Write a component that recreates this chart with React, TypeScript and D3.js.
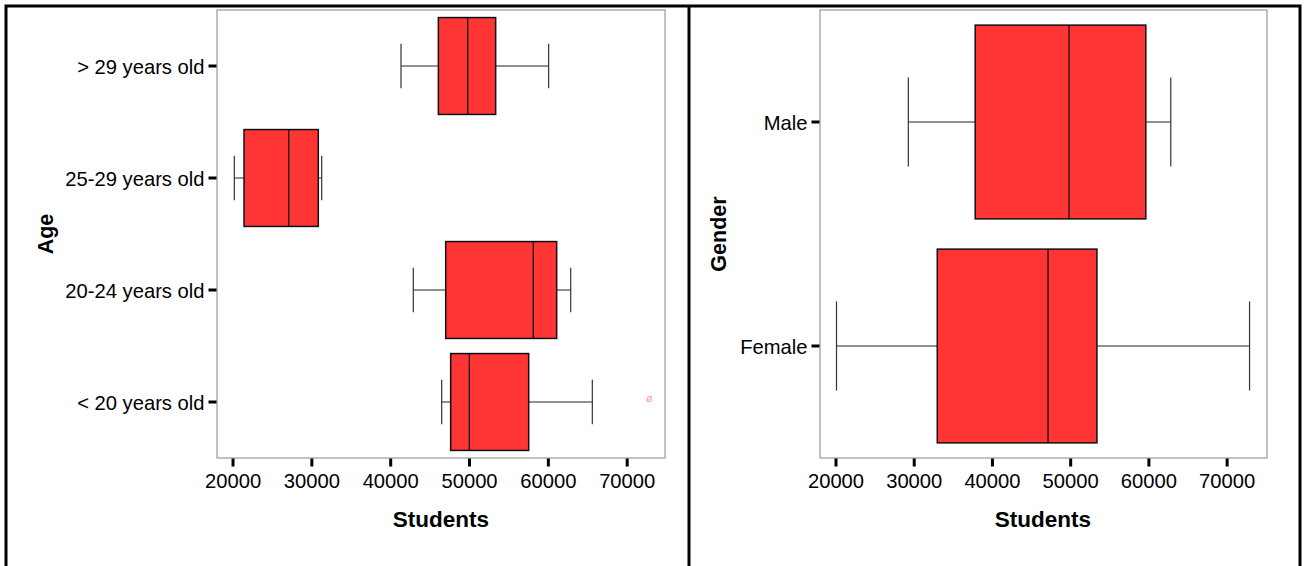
import React, { useEffect, useRef } from "react";
import * as d3 from "d3";

const FONT = "'Liberation Sans', Arial, Helvetica, sans-serif";
const BOX_FILL = "#ff3434";

// Age panel
const ageCategories = ["> 29 years old", "25-29 years old", "20-24 years old", "< 20 years old"];
const ageLowWhisker = [41370, 20230, 42930, 46530];
const ageQ1 = [46110, 21460, 47040, 47670];
const ageMedian = [49830, 27130, 58150, 50040];
const ageQ3 = [53380, 30880, 61120, 57570];
const ageHighWhisker = [60100, 31310, 62900, 65640];
const ageOutliers = [[], [], [], [72870]];

// Gender panel
const genderCategories = ["Male", "Female"];
const genderLowWhisker = [29310, 20130];
const genderQ1 = [37860, 33010];
const genderMedian = [49850, 47170];
const genderQ3 = [59670, 53420];
const genderHighWhisker = [62860, 72930];
const genderOutliers: number[][] = [[], []];

const xTicks = [20000, 30000, 40000, 50000, 60000, 70000];

type PanelProps = {
  left: number;
  right: number;
  top: number;
  bottom: number;
  domain: [number, number];
  categories: string[];
  low: number[];
  q1: number[];
  median: number[];
  q3: number[];
  high: number[];
  outliers: number[][];
  yTitle: string;
  yTitleX: number;
  xTitleX: number;
};

const BoxPanel = (p: PanelProps) => {
  const axesRef = useRef<SVGGElement>(null);
  const w = p.right - p.left;
  const h = p.bottom - p.top;

  const xScale = d3.scaleLinear().domain(p.domain).range([0, w]);
  const yScale = d3.scaleBand().domain(p.categories).range([0, h]).padding(0);
  const boxH = yScale.bandwidth() * 0.865;
  const capH = boxH * 0.46;

  useEffect(() => {
    const g = d3.select(axesRef.current);
    g.selectAll("*").remove();

    const xAxis = g
      .append("g")
      .attr("transform", `translate(0,${h + 0.5})`)
      .call(
        d3.axisBottom(xScale).tickValues(xTicks).tickFormat(d3.format("d")).tickSize(8).tickPadding(7)
      );
    const yAxis = g
      .append("g")
      .attr("transform", `translate(-0.5,0)`)
      .call(d3.axisLeft(yScale).tickSize(8).tickPadding(4));

    [xAxis, yAxis].forEach((a) => {
      a.select(".domain").remove();
      a.selectAll(".tick line").attr("stroke", "#000").attr("stroke-width", 3);
      a.selectAll(".tick text")
        .attr("fill", "#000")
        .attr("font-size", 20.2)
        .attr("font-family", FONT);
    });
    yAxis.selectAll(".tick text").attr("dy", "0.42em");
  }, [p, w, h]);

  return (
    <g>
      <g transform={`translate(${p.left},${p.top})`}>
        <rect x={0} y={0} width={w} height={h} fill="#fff" stroke="#999" strokeWidth={1.2} />
        {p.categories.map((c, i) => {
          const cy = (yScale(c) as number) + yScale.bandwidth() / 2;
          return (
            <g key={c}>
              <line x1={xScale(p.low[i])} x2={xScale(p.q1[i])} y1={cy} y2={cy} stroke="#222" strokeWidth={1} />
              <line x1={xScale(p.q3[i])} x2={xScale(p.high[i])} y1={cy} y2={cy} stroke="#222" strokeWidth={1} />
              <line x1={xScale(p.low[i])} x2={xScale(p.low[i])} y1={cy - capH / 2} y2={cy + capH / 2} stroke="#333" strokeWidth={1.2} />
              <line x1={xScale(p.high[i])} x2={xScale(p.high[i])} y1={cy - capH / 2} y2={cy + capH / 2} stroke="#333" strokeWidth={1.2} />
              <rect
                x={xScale(p.q1[i])}
                y={cy - boxH / 2}
                width={xScale(p.q3[i]) - xScale(p.q1[i])}
                height={boxH}
                fill={BOX_FILL}
                stroke="#111"
                strokeWidth={1.5}
              />
              <line x1={xScale(p.median[i])} x2={xScale(p.median[i])} y1={cy - boxH / 2} y2={cy + boxH / 2} stroke="#111" strokeWidth={1.3} />
              {p.outliers[i].map((o, j) => (
                <text
                  key={j}
                  x={xScale(o)}
                  y={cy - 4}
                  dy="0.35em"
                  textAnchor="middle"
                  fontSize={11}
                  fill="#f7a0a0"
                  fontFamily={FONT}
                >
                  ø
                </text>
              ))}
            </g>
          );
        })}
        <g ref={axesRef} />
      </g>
      <text
        x={p.xTitleX}
        y={527}
        textAnchor="middle"
        fontFamily={FONT}
        fontWeight="bold"
        fontSize={22.5}
      >
        Students
      </text>
      <text
        transform={`translate(${p.yTitleX},${p.top + h / 2}) rotate(-90)`}
        textAnchor="middle"
        fontFamily={FONT}
        fontWeight="bold"
        fontSize={21.5}
      >
        {p.yTitle}
      </text>
    </g>
  );
};

export default function App() {
  return (
    <div style={{ position: "fixed", left: 0, top: 0 }}>
      <svg width={1305} height={566} style={{ display: "block", background: "#fff" }}>
        <rect x={0} y={0} width={1305} height={566} fill="#fff" />
        <BoxPanel
          left={217}
          right={665}
          top={10}
          bottom={458}
          domain={[18030, 74860]}
          categories={ageCategories}
          low={ageLowWhisker}
          q1={ageQ1}
          median={ageMedian}
          q3={ageQ3}
          high={ageHighWhisker}
          outliers={ageOutliers}
          yTitle="Age"
          yTitleX={53}
          xTitleX={441}
        />
        <BoxPanel
          left={820}
          right={1267}
          top={10}
          bottom={458}
          domain={[18020, 75160]}
          categories={genderCategories}
          low={genderLowWhisker}
          q1={genderQ1}
          median={genderMedian}
          q3={genderQ3}
          high={genderHighWhisker}
          outliers={genderOutliers}
          yTitle="Gender"
          yTitleX={726}
          xTitleX={1043}
        />
        <rect x={6} y={6} width={1294} height={620} fill="none" stroke="#000" strokeWidth={3} />
        <line x1={689} x2={689} y1={6} y2={566} stroke="#000" strokeWidth={3} />
      </svg>
    </div>
  );
}
